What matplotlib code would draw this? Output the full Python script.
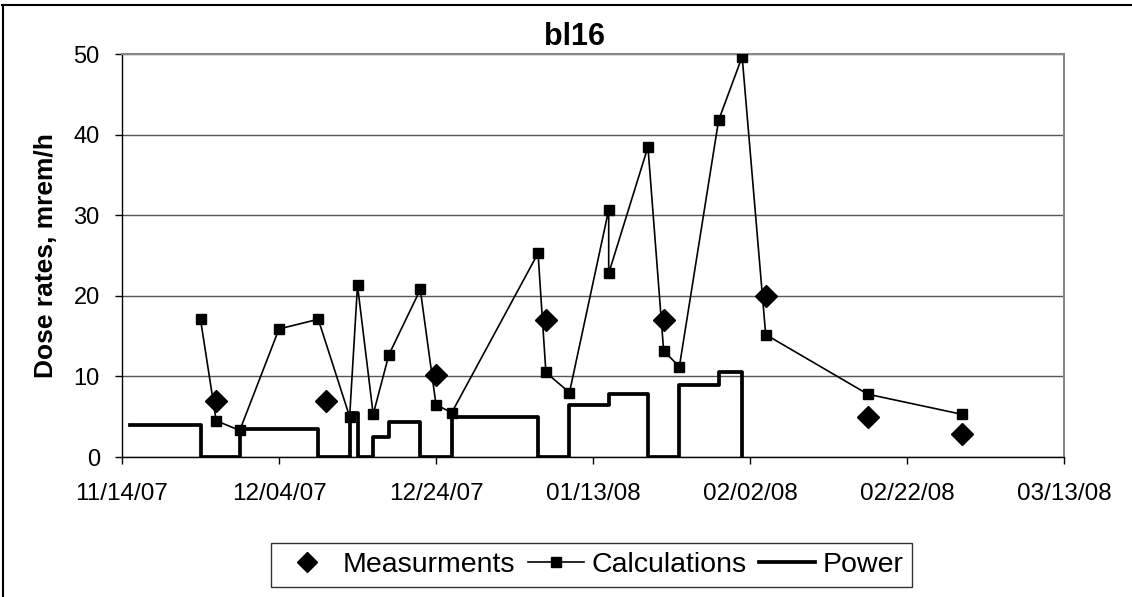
import numpy as np, matplotlib
matplotlib.use("Agg"); import matplotlib.pyplot as plt
import matplotlib.dates as mdates
from matplotlib.lines import Line2D

plt.rcParams['font.family'] = ['Liberation Sans', 'DejaVu Sans']

# data
calc_dates = ["2007-11-24","2007-11-26","2007-11-29","2007-12-04","2007-12-09","2007-12-13",
              "2007-12-14","2007-12-16","2007-12-18","2007-12-22","2007-12-24","2007-12-26",
              "2008-01-06","2008-01-07","2008-01-10","2008-01-15","2008-01-15","2008-01-20",
              "2008-01-22","2008-01-24","2008-01-29","2008-02-01","2008-02-04","2008-02-17",
              "2008-02-29"]
calc_vals = [17.1,4.5,3.3,15.9,17.1,5.0,21.3,5.3,12.7,20.8,6.5,5.5,
             25.3,10.5,8.0,30.7,22.8,38.5,13.2,11.2,41.8,49.7,15.2,7.8,5.3]

meas_dates = ["2007-11-26","2007-12-10","2007-12-24","2008-01-07","2008-01-22",
              "2008-02-04","2008-02-17","2008-02-29"]
meas_vals = [7.0,7.0,10.2,17.0,17.0,20.0,5.0,2.9]

power_dates = ["2007-11-15","2007-11-24","2007-11-29","2007-12-09","2007-12-13","2007-12-14",
               "2007-12-16","2007-12-18","2007-12-22","2007-12-26","2008-01-06","2008-01-10",
               "2008-01-15","2008-01-20","2008-01-24","2008-01-29","2008-02-01"]
power_vals = [4.0,0,3.5,0,5.5,0,2.5,4.4,0,5.0,0,6.4,7.8,0,8.9,10.5,0]

xticks = ["2007-11-14","2007-12-04","2007-12-24","2008-01-13","2008-02-02","2008-02-22","2008-03-13"]

def d(lst):
    return np.array(lst, dtype="datetime64[D]")

fig = plt.figure(figsize=(11.32,5.97), dpi=100)
ax = fig.add_axes([122/1132, 1-457/597, (1064-122)/1132, (457-54.3)/597])

ax.plot(d(power_dates), power_vals, color="black", lw=2.7, drawstyle="steps-post", zorder=3)
ax.plot(d(calc_dates), calc_vals, color="black", lw=1.2, marker="s", ms=7.5, zorder=4)
ax.plot(d(meas_dates), meas_vals, ls="none", marker="D", ms=11.5, color="black", zorder=5)

ax.set_ylim(0,50); ax.set_yticks(range(0,51,10))
xt = d(xticks)
ax.set_xlim(xt[0], xt[-1]); ax.set_xticks(xt)
ax.xaxis.set_major_formatter(mdates.DateFormatter("%m/%d/%y"))
ax.grid(axis="y", color="#555555", lw=1.0)
ax.set_axisbelow(True)
ax.tick_params(length=5, width=1, direction="out")
ax.tick_params(axis="x", pad=14, labelsize=17.5)
ax.tick_params(axis="y", pad=11, labelsize=17)
for s in ("top","right"):
    ax.spines[s].set_color("#888888"); ax.spines[s].set_linewidth(1.5)
for s in ("left","bottom"):
    ax.spines[s].set_color("black"); ax.spines[s].set_linewidth(1.0)

fig.text(574/1132, 1-45/597, "bl16", ha="center", va="baseline", fontsize=22, fontweight="bold")
fig.text(46/1132, 1-256/597, "Dose rates, mrem/h", ha="center", va="center", rotation=90,
         fontsize=19, fontweight="bold")

handles = [Line2D([],[],ls="none",marker="D",ms=10,color="black"),
           Line2D([],[],color="black",lw=1.2,marker="s",ms=7,),
           Line2D([],[],color="black",lw=2.7)]
leg = fig.legend(handles, ["Measurments","Calculations","Power"], loc="center", ncol=3,
                 bbox_to_anchor=(591.5/1132, 32/597), fontsize=20.5, frameon=True, fancybox=False,
                 edgecolor="black", handlelength=1.95, handletextpad=0.28, columnspacing=0.45,
                 borderpad=0.3, borderaxespad=0)
leg.get_frame().set_linewidth(1.0)

# outer chart-area border (top and left only visible)
fig.add_artist(Line2D([2/1132, 1], [1-5/597, 1-5/597], transform=fig.transFigure, color="black", lw=1.5))
fig.add_artist(Line2D([3/1132, 3/1132], [0, 1-5/597], transform=fig.transFigure, color="black", lw=1.5))

fig.savefig("out.png", dpi=100)
